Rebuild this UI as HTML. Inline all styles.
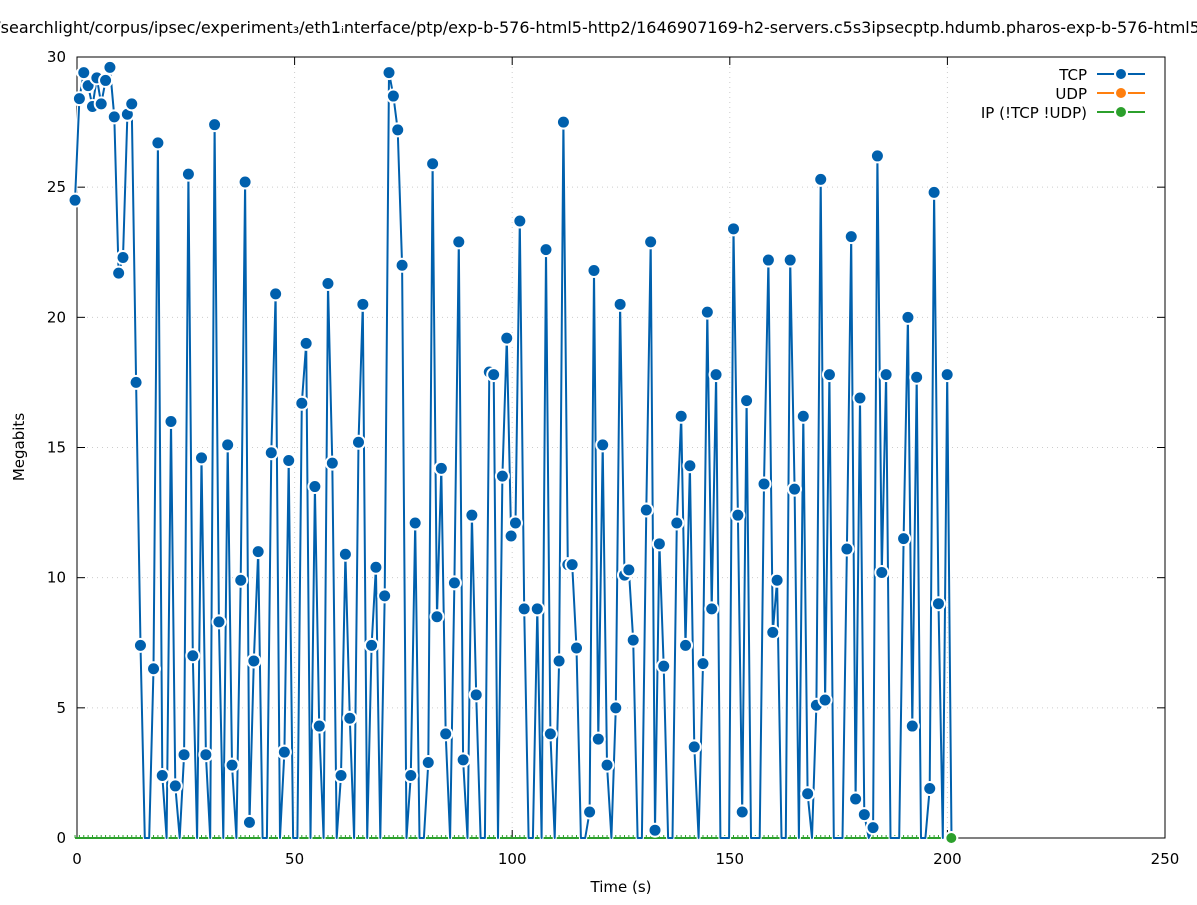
<!DOCTYPE html>
<html><head><meta charset="utf-8"><style>
body{margin:0;background:#fff;width:1197px;height:900px;overflow:hidden;font-family:"Liberation Sans","DejaVu Sans",sans-serif}
svg text{font-family:"DejaVu Sans","Liberation Sans",sans-serif;font-size:15px;fill:#000}
</style></head><body>
<svg id="chart" width="1197" height="900" xmlns="http://www.w3.org/2000/svg">
<text x="622" y="33" text-anchor="middle" style="font-size:16px">/searchlight/corpus/ipsec/experiment₃/eth1ᵢnterface/ptp/exp-b-576-html5-http2/1646907169-h2-servers.c5s3ipsecptp.hdumb.pharos-exp-b-576-html5-http2</text>
<g id="grid"></g>
<g id="axes"></g>
<g id="series"></g>
<text x="621" y="892" text-anchor="middle">Time (s)</text>
<text transform="translate(24,447) rotate(-90)" text-anchor="middle">Megabits</text>
<g>
 <g>
  <text x="1087" y="80" text-anchor="end">TCP</text>
  <line x1="1097" y1="74" x2="1145" y2="74" stroke="#0060ad" stroke-width="2"/>
  <circle cx="1121" cy="74" r="6" fill="#0060ad" stroke="#fff" stroke-width="2"/>
 </g>
 <g>
  <text x="1087" y="99" text-anchor="end">UDP</text>
  <line x1="1097" y1="93" x2="1145" y2="93" stroke="#ff7f0e" stroke-width="2"/>
  <circle cx="1121" cy="93" r="6" fill="#ff7f0e" stroke="#fff" stroke-width="2"/>
 </g>
 <g>
  <text x="1087" y="118" text-anchor="end">IP (!TCP  !UDP)</text>
  <line x1="1097" y1="112" x2="1145" y2="112" stroke="#2ca02c" stroke-width="2"/>
  <circle cx="1121" cy="112" r="6" fill="#2ca02c" stroke="#fff" stroke-width="2"/>
 </g>
</g>
</svg>
<script>
const xTicks=[0,50,100,150,200,250];
const yTicks=[0,5,10,15,20,25,30];
const tStart=-0.45;
const tStep=1.002;
const tcpValues=[24.5,28.4,29.4,28.9,28.1,29.2,28.2,29.1,29.6,27.7,21.7,22.3,27.8,28.2,17.5,7.4,0,0,6.5,26.7,
2.4,0,16.0,2.0,0,3.2,25.5,7.0,0,14.6,3.2,0,27.4,8.3,0,15.1,2.8,0,9.9,25.2,
0.6,6.8,11.0,0,0,14.8,20.9,0,3.3,14.5,0,0,16.7,19.0,0,13.5,4.3,0,21.3,14.4,
0,2.4,10.9,4.6,0,15.2,20.5,0,7.4,10.4,0,9.3,29.4,28.5,27.2,22.0,0,2.4,12.1,0,
0,2.9,25.9,8.5,14.2,4.0,0,9.8,22.9,3.0,0,12.4,5.5,0,0,17.9,17.8,0,13.9,19.2,
11.6,12.1,23.7,8.8,0,0,8.8,0,22.6,4.0,0,6.8,27.5,10.5,10.5,7.3,0,0,1.0,21.8,
3.8,15.1,2.8,0,5.0,20.5,10.1,10.3,7.6,0,0,12.6,22.9,0.3,11.3,6.6,0,0,12.1,16.2,
7.4,14.3,3.5,0,6.7,20.2,8.8,17.8,0,0,0,23.4,12.4,1.0,16.8,0,0,0,13.6,22.2,
7.9,9.9,0,0,22.2,13.4,0,16.2,1.7,0,5.1,25.3,5.3,17.8,0,0,0,11.1,23.1,1.5,
16.9,0.9,0,0.4,26.2,10.2,17.8,0,0,0,11.5,20.0,4.3,17.7,0,0,1.9,24.8,9.0,0,
17.8,0];
const udpValues=[0];
const ipValues=[0];
const ipTimes=[200.9];

const X0=77,X1=1165,Y0=838,Y1=57;
const xs=t=>X0+(t/250)*(X1-X0);
const ys=v=>Y0-(v/30)*(Y0-Y1);
const NS="http://www.w3.org/2000/svg";
function mk(tag,attrs,parent){const e=document.createElementNS(NS,tag);for(const k in attrs)e.setAttribute(k,attrs[k]);parent.appendChild(e);return e;}
const grid=document.getElementById('grid'),axes=document.getElementById('axes'),series=document.getElementById('series');

xTicks.forEach(t=>{
 if(t>0&&t<250){const g=mk('line',{x1:xs(t),x2:xs(t),y1:Y1,y2:Y0,stroke:'#ccc','stroke-dasharray':'1,4'},grid);
 
 }
 const l=mk('line',{x1:xs(t),x2:xs(t),y1:Y0,y2:Y0-8,stroke:'#000'},axes);
 
 
 const l2=mk('line',{x1:xs(t),x2:xs(t),y1:Y1,y2:Y1+8,stroke:'#000'},axes);
 
 
 const tx=mk('text',{x:xs(t),y:Y0+26,'text-anchor':'middle'},axes);tx.textContent=t;
 
 
});
yTicks.forEach(v=>{
 if(v>0&&v<30){const g=mk('line',{x1:X0,x2:X1,y1:ys(v),y2:ys(v),stroke:'#ccc','stroke-dasharray':'1,4'},grid);
 
 }
 const l=mk('line',{x1:X0,x2:X0+8,y1:ys(v),y2:ys(v),stroke:'#000'},axes);
 
 
 const l2=mk('line',{x1:X1,x2:X1-8,y1:ys(v),y2:ys(v),stroke:'#000'},axes);
 
 
 const tx=mk('text',{x:X0-11,y:ys(v)+5,'text-anchor':'end'},axes);tx.textContent=v;
 
 
});
const frame=mk('rect',{x:X0,y:Y1,width:X1-X0,height:Y0-Y1,fill:'none',stroke:'#000','stroke-width':1},axes);



const tTimes=tcpValues.map((v,i)=>tStart+i*tStep);
const ipLine=mk('line',{x1:xs(tTimes[0]),x2:xs(ipTimes[0]),y1:Y0,y2:Y0,stroke:'#2ca02c','stroke-width':2},series);


tTimes.forEach(t=>{const m=mk('line',{x1:xs(t),x2:xs(t),y1:Y0,y2:Y0-3,stroke:'#2ca02c','stroke-width':1},series);
 
 });

const pts=tcpValues.map((v,i)=>xs(tTimes[i]).toFixed(1)+','+ys(v).toFixed(1)).join(' ');
const pl=mk('polyline',{points:pts,fill:'none',stroke:'#fff','stroke-width':4,'stroke-linejoin':'round'},series);


const pl2=mk('polyline',{points:pts,fill:'none',stroke:'#0060ad','stroke-width':2,'stroke-linejoin':'round'},series);


tcpValues.forEach((v,i)=>{
 if(v<=0)return;
 const c=mk('circle',{cx:xs(tTimes[i]),cy:ys(v),r:6.5,fill:'#0060ad',stroke:'#fff','stroke-width':2},series);
 
 
});
ipValues.forEach((v,i)=>{
 const c=mk('circle',{cx:xs(ipTimes[i]),cy:ys(v),r:6,fill:'#2ca02c',stroke:'#fff','stroke-width':2},series);
 
 
});
</script>
</body></html>
